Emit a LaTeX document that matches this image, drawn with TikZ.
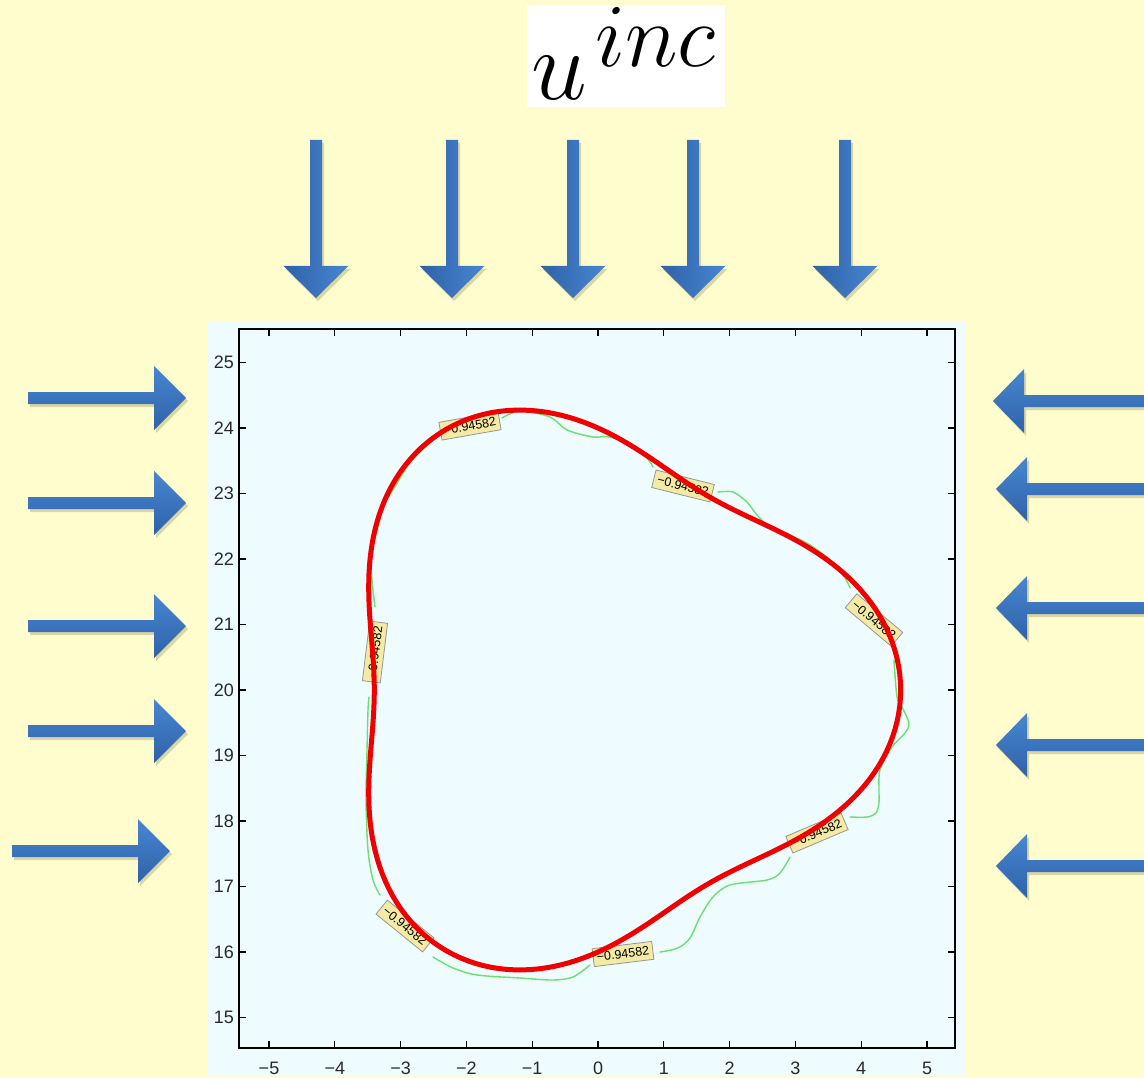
\RequirePackage{fix-cm}
\documentclass[tikz,border=0pt]{standalone}
\usepackage{fontspec}
\newfontfamily\arialf{Liberation Sans}
\usetikzlibrary{shadows}
\definecolor{bgyellow}{RGB}{255,253,206}
\definecolor{panelblue}{RGB}{238,252,255}
\definecolor{blueA}{RGB}{46,98,168}
\definecolor{blueB}{RGB}{72,134,210}
\definecolor{labelfill}{RGB}{243,234,165}
\definecolor{labeldraw}{RGB}{150,150,150}
\definecolor{gcurve}{RGB}{110,222,110}
\definecolor{rcurve}{RGB}{240,0,0}
\definecolor{shadowc}{RGB}{150,140,80}
\definecolor{ticktext}{RGB}{40,40,40}
\tikzset{
  arrowbase/.style={drop shadow={shadow xshift=2pt, shadow yshift=-3pt, opacity=0.35, fill=shadowc}},
  harrowfill/.style={arrowbase, top color=blueB, bottom color=blueA},
  varrowfill/.style={arrowbase, left color=blueA, right color=blueB},
  vallabel/.style={draw=labeldraw, line width=0.8pt, fill=labelfill, text=black,
    font=\arialf\fontsize{12.5}{13}\selectfont, minimum width=60pt, minimum height=18pt, inner sep=1pt},
  ticklab/.style={font=\arialf\fontsize{18}{19}\selectfont, text=ticktext, inner sep=0pt},
  tickmark/.style={line width=1.2pt, black},
  axisline/.style={line width=1.3pt, black},
  greencurve/.style={gcurve, line width=1.4pt, line cap=round, line join=round},
  redcurve/.style={rcurve, line width=5pt, line join=round}
}
\newcommand\rarr[3]{\path[harrowfill] (#1,#3-6) -- (#2-32,#3-6) -- (#2-32,#3-32) -- (#2,#3) -- (#2-32,#3+32) -- (#2-32,#3+6) -- (#1,#3+6) -- cycle;}
\newcommand\larr[3]{\path[harrowfill] (#1,#3-6) -- (#2+31,#3-6) -- (#2+31,#3-32) -- (#2,#3) -- (#2+31,#3+32) -- (#2+31,#3+6) -- (#1,#3+6) -- cycle;}
\newcommand\darr[3]{\path[varrowfill] (#1-6,#2) -- (#1+6,#2) -- (#1+6,#3-32) -- (#1+32.5,#3-32) -- (#1,#3) -- (#1-32.5,#3-32) -- (#1-6,#3-32) -- cycle;}
\begin{document}
\begin{tikzpicture}[x=1pt, y=-1pt]
\useasboundingbox (0,0) rectangle (1144,1078);
\fill[bgyellow] (0,0) rectangle (1144,1078);

% title
\fill[white] (527,5) rectangle (725,107);
\node[anchor=base west, inner sep=0pt] (tu) at (531,100) {\fontsize{100}{100}\selectfont$u$};
\node[anchor=base west, inner sep=0pt] (tinc) at (595,67) {\fontsize{90}{90}\selectfont$inc$};

% incident arrows
\darr{316}{140}{298}
\darr{452}{140}{298}
\darr{573}{140}{298}
\darr{693}{140}{298}
\darr{845}{140}{298}
\rarr{28}{186}{398}
\rarr{28}{186}{503}
\rarr{28}{186}{626}
\rarr{28}{186}{731}
\rarr{12}{170}{851}
\larr{1160}{993}{401}
\larr{1160}{996}{489}
\larr{1160}{996}{608}
\larr{1160}{996}{745}
\larr{1160}{996}{866}

% plot panel
\fill[panelblue] (207,322) rectangle (965,1076);

% green contour pieces
\draw[greencurve] plot[smooth] coordinates {(502,418) (520,411) (550,417) (567,430) (593,437) (610,437) (637,448) (650,462) (653,467)};
\draw[greencurve] plot[smooth] coordinates {(718,492) (733,492) (747,502) (757,515) (770,527) (790,535) (810,545) (830,560) (845,578) (850,588)};
\draw[greencurve] plot[smooth] coordinates {(894,660) (897,697) (902,707) (909,723) (905,733) (892,747) (880,770) (879,790) (879,803) (876,813) (867,817) (850,817)};
\draw[greencurve] plot[smooth] coordinates {(790,857) (780,873) (767,880) (730,885) (713,897) (700,917) (690,938) (678,948) (660,952)};
\draw[greencurve] plot[smooth] coordinates {(590,965) (573,977) (553,980) (520,978) (477,975) (453,968) (433,957)};
\draw[greencurve] plot[smooth] coordinates {(380,895) (373,880) (368,850) (366,800) (367,750) (368,710) (369,697)};
\draw[greencurve] plot[smooth] coordinates {(375,607) (372,580) (371,555) (377,530) (384,505) (396,485) (409,464) (425,447) (440,435)};

% value labels
\node[vallabel, rotate=10] (v1) at (470,426) {−0.94582};
\node[vallabel, rotate=-14] (v2) at (683,486) {−0.94582};
\node[vallabel, rotate=-40] (v3) at (874,620) {−0.94582};
\node[vallabel, rotate=23] (v4) at (817,833) {−0.94582};
\node[vallabel, rotate=7] (v5) at (623,954) {−0.94582};
\node[vallabel, rotate=-39] (v6) at (405,926) {−0.94582};
\node[vallabel, rotate=83] (v7) at (375,652) {−0.94582};

% red curve
\begin{scope}[shift={(598,690)}, x=65.8pt, y=65.5pt]
\draw[redcurve] plot[domain=0:360, samples=241, variable=\t]
  ({(4+0.6*cos(3*\t))*cos(\t)}, {(4+0.6*cos(3*\t))*sin(\t)}) -- cycle;
\end{scope}

% axes
\draw[axisline] (239,329) rectangle (955,1048);
\foreach \k [count=\c] in {-5,...,5} {
  \draw[tickmark] ({598+65.8*\k},1048) -- ++(0,-7);
  \draw[tickmark] ({598+65.8*\k},329) -- ++(0,7);
  \node[ticklab] (xl\c) at ({598+65.8*\k},1068) {\ifnum\k<0 −\number\numexpr-\k\relax\else\k\fi};
}
\foreach \v [count=\c] in {15,...,25} {
  \draw[tickmark] (239,{690-65.5*(\v-20)}) -- ++(7,0);
  \draw[tickmark] (955,{690-65.5*(\v-20)}) -- ++(-7,0);
  \node[ticklab, anchor=east] (yl\c) at (234,{690-65.5*(\v-20)}) {\v};
}
\end{tikzpicture}
\end{document}
